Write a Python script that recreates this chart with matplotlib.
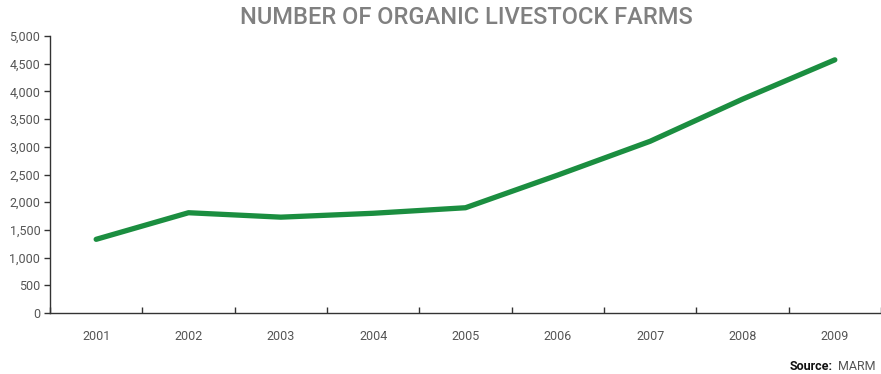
import matplotlib
matplotlib.use("Agg")
import matplotlib.pyplot as plt
from matplotlib.ticker import FuncFormatter, FixedLocator

years = ["2001", "2002", "2003", "2004", "2005", "2006", "2007", "2008", "2009"]
farms = [1330, 1810, 1730, 1800, 1900, 2490, 3100, 3860, 4570]
y_ticks = [0, 500, 1000, 1500, 2000, 2500, 3000, 3500, 4000, 4500, 5000]

plt.rcParams["font.family"] = ["Roboto", "DejaVu Sans"]

fig = plt.figure(figsize=(8.81, 3.74), dpi=100)
ax = fig.add_axes([50 / 881, (374 - 313) / 374, 831 / 881, 277 / 374])

x = list(range(len(years)))
ax.plot(x, farms, color="#1b8e40", linewidth=3.8, solid_capstyle="round",
        solid_joinstyle="round")

ax.set_xlim(-0.5, len(years) - 0.5)
ax.set_ylim(0, 5000)
ax.set_yticks(y_ticks)
ax.yaxis.set_major_formatter(FuncFormatter(lambda v, p: f"{int(v):,}"))

ax.set_xticks(x)
ax.set_xticklabels(years)
ax.xaxis.set_minor_locator(FixedLocator([i - 0.5 for i in range(len(years) + 1)]))
ax.tick_params(axis="x", which="major", length=0, pad=12, labelsize=9, labelcolor="#555555")
ax.tick_params(axis="x", which="minor", length=4, direction="in", color="#333333", width=1)
ax.tick_params(axis="y", length=4, direction="out", color="#333333", width=1,
               labelsize=9, labelcolor="#555555", pad=3)

for side in ("top", "right"):
    ax.spines[side].set_visible(False)
for side in ("left", "bottom"):
    ax.spines[side].set_color("#333333")
    ax.spines[side].set_linewidth(1)

fig.text(466 / 881, 1 - 18 / 374, "NUMBER OF ORGANIC LIVESTOCK FARMS", ha="center", va="center",
         fontsize=17, fontweight="medium", color="#808080")

fig.text(790 / 881, 1 - 367 / 374, "Source:", ha="left", va="center",
         fontsize=9, fontweight="bold", color="#111111")
fig.text(838 / 881, 1 - 367 / 374, "MARM", ha="left", va="center",
         fontsize=9, color="#555555")

fig.savefig("out.png", dpi=100)
